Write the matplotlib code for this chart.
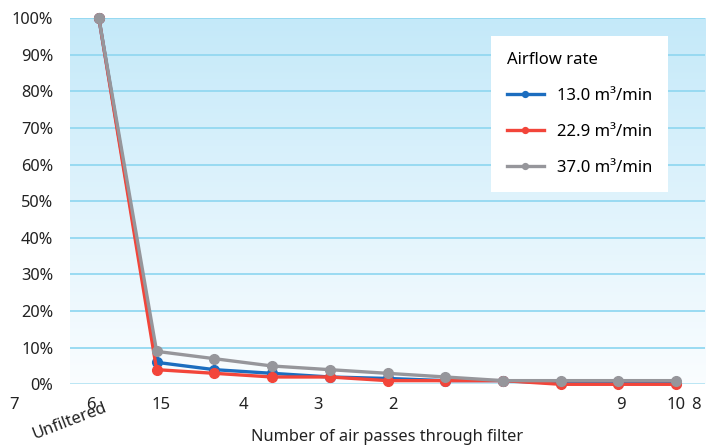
import numpy as np
import matplotlib
matplotlib.use("Agg")
import matplotlib.pyplot as plt

plt.rcParams['font.family'] = ['Noto Sans', 'DejaVu Sans']

# data (percent of particles remaining)
categories = ["Unfiltered", "1", "2", "3", "4", "5", "6", "7", "8", "9", "10"]
rate_13 = [100, 6, 4, 3, 2, 1.6, 1, 1, 0.3, 0.3, 0.3]
rate_229 = [100, 4, 3, 2, 2, 1, 1, 1, 0, 0, 0]
rate_37 = [100, 9, 7, 5, 4, 3, 2, 1, 1, 1, 1]
series_names = ["13.0 m³/min", "22.9 m³/min", "37.0 m³/min"]
colors = ["#1c6dbf", "#f2453a", "#96969b"]

# the reference's garbled x tick labels and where they sit (category units)
tick_text = ["7", "6", "15", "4", "3", "2", "9", "10", "8"]
tick_pos = [-1.47, -0.14, 1.07, 2.5, 3.8, 5.1, 9.05, 10.0, 10.35]
yticks = list(range(0, 101, 10))

fig = plt.figure(figsize=(7.13, 4.45), dpi=100)
ax = fig.add_axes([0.0982, 0.1364, 0.8907, 0.8225])

x = np.arange(len(categories))
ax.set_xlim(-0.5, len(categories) - 0.5)
ax.set_ylim(0, 100)

# gradient background
grad = np.linspace(0, 1, 256).reshape(-1, 1)
top = np.array([196, 233, 249]) / 255
bot = np.array([250, 253, 255]) / 255
img = bot + (top - bot) * grad[:, :, None]
ax.imshow(img, extent=[-0.5, len(categories) - 0.5, 0, 100], origin="lower",
          aspect="auto", zorder=0)

for yv in yticks:
    ax.axhline(yv, color="#93d8f1" if yv else "#b5e4f3", lw=1.3 if yv else 2, zorder=1)

for vals, name, c in zip([rate_13, rate_229, rate_37], series_names, colors):
    ax.plot(x, vals, color=c, lw=2.4, marker="o", ms=7, label=name,
            zorder=3, clip_on=False)

for s in ax.spines.values():
    s.set_visible(False)
ax.set_xticks([])
ax.set_yticks(yticks)
ax.set_yticklabels([f"{v}%" for v in yticks], fontsize=11.8, color="#222222")
ax.tick_params(axis="y", length=0, pad=12)

trans = ax.get_xaxis_transform()
for t, p in zip(tick_text, tick_pos):
    ax.text(p, -0.057, t, transform=trans, ha="center", va="center",
            fontsize=12, color="#222222", clip_on=False)
ax.text(-0.5, -0.1, categories[0], transform=trans, ha="center", va="center",
        rotation=21, fontsize=12, color="#222222", clip_on=False)

ax.text(0.5, -0.145, "Number of air passes through filter", transform=ax.transAxes,
        ha="center", va="center", fontsize=11.8, color="#222222")

leg = ax.legend(loc="upper left", bbox_to_anchor=(0.663, 0.952), title="Airflow rate",
                fontsize=12, title_fontsize=12, frameon=True, fancybox=False,
                edgecolor="white", framealpha=1, borderpad=0.95, labelspacing=1.2,
                handlelength=2.2, handletextpad=0.8, markerscale=0.6, borderaxespad=0)
leg._legend_box.align = "left"
leg.get_frame().set_linewidth(0)

fig.savefig("out.png", dpi=100)
